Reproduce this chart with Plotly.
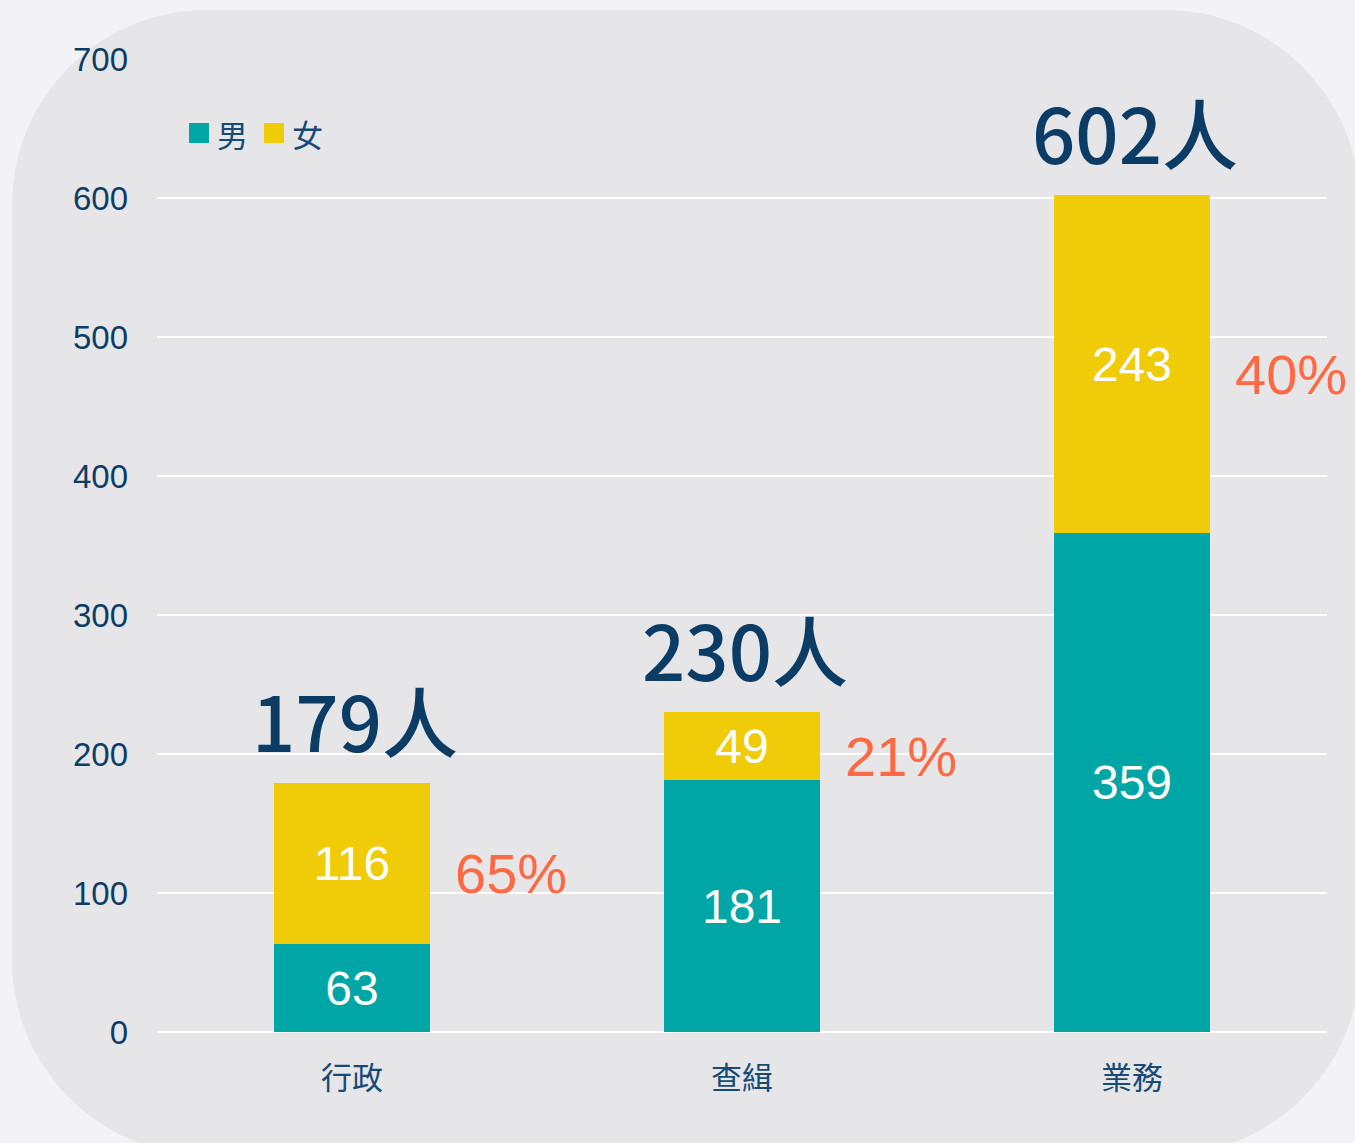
import plotly.graph_objects as go

# ---- data ----
categories = ["行政", "查緝", "業務"]
series_names = ["男", "女"]
male = [63, 181, 359]
female = [116, 49, 243]
y_ticks = [0, 100, 200, 300, 400, 500, 600, 700]

totals = [m + f for m, f in zip(male, female)]
female_share = [f / t for f, t in zip(female, totals)]

# ---- geometry of the figure (pixels) ----
W, H = 1355, 1143
ML, MR, MT, MB = 157, 28, 59, 111
PW, PH = W - ML - MR, H - MT - MB

TEAL = "#00A6A6"
YELLOW = "#EFCB08"
NAVY = "#0B3C66"
AXIS_TXT = "#174A75"
ORANGE = "#FF6A45"
COLORS = [TEAL, YELLOW]


def px2paper(x, y):
    return (x - ML) / PW, (H - MB - y) / PH


def rounded_rect(x0, y0, x1, y1, r):
    k = 0.5523 * r

    def P(x, y):
        a, b = px2paper(x, y)
        return f"{a:.5f},{b:.5f}"
    d = f"M {P(x0 + r, y0)} L {P(x1 - r, y0)} "
    d += f"C {P(x1 - r + k, y0)} {P(x1, y0 + r - k)} {P(x1, y0 + r)} "
    d += f"L {P(x1, y1 - r)} "
    d += f"C {P(x1, y1 - r + k)} {P(x1 - r + k, y1)} {P(x1 - r, y1)} "
    d += f"L {P(x0 + r, y1)} "
    d += f"C {P(x0 + r - k, y1)} {P(x0, y1 - r + k)} {P(x0, y1 - r)} "
    d += f"L {P(x0, y0 + r)} "
    d += f"C {P(x0, y0 + r - k)} {P(x0 + r - k, y0)} {P(x0 + r, y0)} Z"
    return d


fig = go.Figure()

for name, vals, col in zip(series_names, [male, female], COLORS):
    fig.add_trace(go.Bar(
        name=name, x=categories, y=vals, marker_color=col,
        marker_line_width=0,
        text=[str(v) for v in vals], textposition="inside",
        insidetextanchor="middle", constraintext="none",
        textfont=dict(family="Liberation Sans, Arial", size=48, color="white"),
        hoverinfo="skip", showlegend=False,
    ))

annotations = []
shapes = [dict(
    type="path", xref="paper", yref="paper", layer="below",
    path=rounded_rect(12, 10, 1360, 1155, 195),
    fillcolor="#E6E6E8", line=dict(width=0),
)]

for c, t, m, f, s in zip(categories, totals, male, female, female_share):
    annotations.append(dict(
        x=c, y=t, xref="x", yref="y", text=f"{t}人", showarrow=False,
        xanchor="center", yanchor="middle", yshift=64, xshift=3,
        font=dict(family="Noto Sans CJK TC", size=76, color=NAVY, weight=500),
    ))
    annotations.append(dict(
        x=c, y=m + f / 2, xref="x", yref="y", text=f"{round(s * 100)}%",
        showarrow=False, xanchor="left", yanchor="middle", xshift=101, yshift=-10,
        font=dict(family="Liberation Sans, Arial", size=56, color=ORANGE),
    ))

# legend drawn as squares + labels (larger swatches than plotly's fixed icons)
leg_x = [189, 264]
for name, col, lx in zip(series_names, COLORS, leg_x):
    a0, b0 = px2paper(lx, 143)
    a1, b1 = px2paper(lx + 20, 123)
    shapes.append(dict(type="rect", xref="paper", yref="paper",
                       x0=a0, y0=b0, x1=a1, y1=b1,
                       fillcolor=col, line=dict(width=0)))
    tx, ty = px2paper(lx + 26, 133)
    annotations.append(dict(
        x=tx, y=ty, xref="paper", yref="paper", text=name, showarrow=False,
        xanchor="left", yanchor="middle",
        font=dict(family="Noto Sans CJK TC", size=31, color=AXIS_TXT),
    ))

fig.update_layout(
    width=W, height=H,
    margin=dict(l=ML, r=MR, t=MT, b=MB, pad=0),
    paper_bgcolor="#F3F3F7",
    plot_bgcolor="rgba(0,0,0,0)",
    barmode="stack",
    bargap=0.6,
    showlegend=False,
    xaxis=dict(
        range=[-0.5, len(categories) - 0.5],
        showgrid=False, zeroline=False, showline=False,
        tickfont=dict(family="Noto Sans CJK TC", size=31, color=AXIS_TXT),
        ticks="", ticklabelstandoff=25,
    ),
    yaxis=dict(
        range=[0, 700], tickvals=y_ticks,
        showgrid=True, gridcolor="#FFFFFF", gridwidth=2,
        zeroline=True, zerolinecolor="#FFFFFF", zerolinewidth=2,
        showline=False, ticks="",
        tickfont=dict(family="Liberation Sans, Arial", size=33, color="#0D3D66"),
        ticklabelstandoff=28,
    ),
    shapes=shapes,
    annotations=annotations,
)

fig.write_html(
    "out.html",
    config={"displayModeBar": False},
    post_script="document.body.style.margin='0';"
                "document.body.style.background='#F3F3F7';"
                "document.body.style.overflow='hidden';",
)
